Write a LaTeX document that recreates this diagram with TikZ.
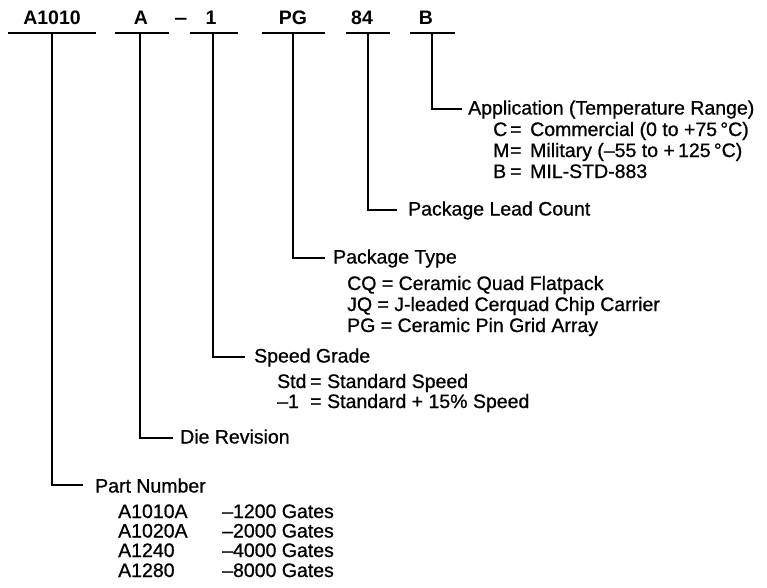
\documentclass[tikz,border=0pt]{standalone}
\usepackage{fontspec}
\setmainfont{Liberation Sans}
\newfontfamily\bodyfont{Liberation Sans}[FakeBold=0.8]
\begin{document}
\begin{tikzpicture}[x=1pt,y=-1pt,
  lbl/.style={font=\fontsize{19.5}{20}\bfseries, anchor=base, inner sep=0pt},
  txt/.style={font=\fontsize{19.5}{20}\bodyfont, anchor=base west, inner sep=0pt},
  bar/.style={line width=1.9pt},
  conn/.style={line width=1.8pt}]
\useasboundingbox (0,0) rectangle (767,587);

% top code
\node[lbl] (pn)   at (52,24)  {A1010};
\node[lbl] (rev)  at (141,24) {A};
\node[lbl] (dash) at (181,24) {\scalebox{1.2}[1]{–}};
\node[lbl] (sg)   at (211,24) {1};
\node[lbl] (pt)   at (293,24) {PG};
\node[lbl] (lc)   at (362,24) {84};
\node[lbl] (ap)   at (426,24) {B};

% bars
\coordinate (pnL) at (8,33);   \coordinate (pnR) at (96,33);  \coordinate (pnM) at (52,33);
\coordinate (revL) at (115,33); \coordinate (revR) at (169,33); \coordinate (revM) at (140,33);
\coordinate (sgL) at (190,33); \coordinate (sgR) at (238,33); \coordinate (sgM) at (213,33);
\coordinate (ptL) at (262,33); \coordinate (ptR) at (325,33); \coordinate (ptM) at (293,33);
\coordinate (lcL) at (346,33); \coordinate (lcR) at (390,33); \coordinate (lcM) at (368,33);
\coordinate (apL) at (410,33); \coordinate (apR) at (455,33); \coordinate (apM) at (432,33);
\foreach \b in {pn,rev,sg,pt,lc,ap} \draw[bar] (\b L) -- (\b R);

% elbow ends
\coordinate (apE)  at (462,109);
\coordinate (lcE)  at (397,210);
\coordinate (ptE)  at (325,258);
\coordinate (sgE)  at (245,357);
\coordinate (revE) at (173,438);
\coordinate (pnE)  at (83,485);
\foreach \b in {pn,rev,sg,pt,lc,ap} \draw[conn] (\b M) |- (\b E);

% Application
\node[txt] (apT) at (468,114.5) {Application (Temperature Range)};
\node[txt] (ap1) at (493,136) {\makebox[17pt][l]{C}\makebox[20pt][l]{=}Commercial (0 to +75\,°C)};
\node[txt] (ap2) at (493,157) {\makebox[17pt][l]{M}\makebox[20pt][l]{=}Military (–55 to +\,125\,°C)};
\node[txt] (ap3) at (493,178) {\makebox[17pt][l]{B}\makebox[20pt][l]{=}MIL-STD-883};

% Lead count
\node[txt] (lcT) at (408,215.5) {Package Lead Count};

% Package type
\node[txt] (ptT) at (333,263.5) {Package Type};
\node[txt] (pt1) at (347,290) {CQ = Ceramic Quad Flatpack};
\node[txt] (pt2) at (347,311) {JQ = J-leaded Cerquad Chip Carrier};
\node[txt] (pt3) at (347,332) {PG = Ceramic Pin Grid Array};

% Speed grade
\node[txt] (sgT) at (254,362.5) {Speed Grade};
\node[txt] (sg1) at (277,388) {\makebox[33pt][l]{Std}\makebox[17pt][l]{=}Standard Speed};
\node[txt] (sg2) at (277,408) {\makebox[33pt][l]{–1}\makebox[17pt][l]{=}Standard + 15\% Speed};

% Die revision
\node[txt] (revT) at (180,443.5) {Die Revision};

% Part number
\node[txt] (pnT) at (95,492.5) {Part Number};
\node[txt] (pn1a) at (118,518) {A1010A};
\node[txt] (pn1b) at (222,518) {–1200 Gates};
\node[txt] (pn2a) at (118,537.5) {A1020A};
\node[txt] (pn2b) at (222,537.5) {–2000 Gates};
\node[txt] (pn3a) at (118,557) {A1240};
\node[txt] (pn3b) at (222,557) {–4000 Gates};
\node[txt] (pn4a) at (118,577) {A1280};
\node[txt] (pn4b) at (222,577) {–8000 Gates};
\end{tikzpicture}
\end{document}
